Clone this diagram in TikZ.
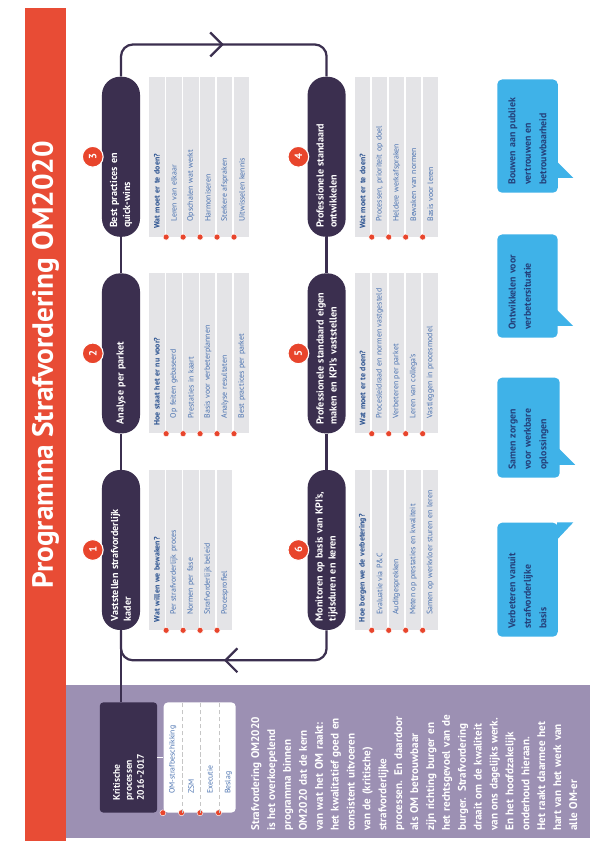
\documentclass[tikz,border=0pt]{standalone}
\usepackage{fontspec}
\setmainfont{PT Sans}
\usepackage{xcolor}
\usetikzlibrary{positioning, arrows.meta, decorations.markings}

\definecolor{titlered}{HTML}{E84C35}
\definecolor{numred}{HTML}{E8452C}
\definecolor{pill}{HTML}{3B2F4F}
\definecolor{panel}{HTML}{9C90B3}
\definecolor{rowgrey}{HTML}{E4E4E7}
\definecolor{headblue}{HTML}{28508F}
\definecolor{itemblue}{HTML}{4A72B0}
\definecolor{calloutblue}{HTML}{3FB2E8}
\definecolor{calloutnavy}{HTML}{24407A}

\begin{document}
\begin{tikzpicture}[
    x=0.025cm, y=-0.025cm, rotate=90, transform shape,
    title/.style={text=white, font=\bfseries\fontsize{20.8}{24}\selectfont, inner sep=0pt},
    stage/.style={rectangle, rounded corners=0.45cm, fill=pill, text=white, text width=3.56cm, inner xsep=0.22cm, minimum height=0.95cm, align=left, font=\bfseries\fontsize{7.2}{9.2}\selectfont},
    num/.style={circle, fill=numred, draw=white, line width=0.8pt, text=white, minimum size=0.52cm, inner sep=0pt, font=\bfseries\fontsize{7.5}{8}\selectfont},
    dotmark/.style={circle, fill=numred, draw=white, line width=0.3pt, minimum size=0.15cm, inner sep=0pt},
    headrow/.style={rectangle, fill=rowgrey, text=headblue, text width=4cm, minimum height=0.38cm, inner xsep=0pt, inner ysep=0pt, align=left, font=\bfseries\fontsize{5.6}{6.5}\selectfont, execute at begin node={\hspace*{0.2cm}}},
    itemrow/.style={rectangle, fill=rowgrey, text=itemblue, text width=4cm, minimum height=0.38cm, inner xsep=0pt, inner ysep=0pt, align=left, font=\fontsize{5.6}{6.5}\selectfont, execute at begin node={\hspace*{0.38cm}}, label={[dotmark, label distance=-0.275cm]west:{}}},
    critbox/.style={rectangle, rounded corners=0.08cm, fill=pill, text=white, text width=2.15cm, inner xsep=0.3cm, minimum height=1.43cm, align=left, font=\bfseries\fontsize{6.8}{8.5}\selectfont},
    listbox/.style={rectangle, rounded corners=0.1cm, fill=white, minimum width=2.75cm, minimum height=1.8cm},
    listrow/.style={rectangle, text=itemblue, text width=2.75cm, minimum height=0.45cm, inner xsep=0pt, inner ysep=0pt, align=left, font=\fontsize{5.5}{6}\selectfont, execute at begin node={\hspace*{0.47cm}}, label={[dotmark, label distance=-0.325cm]west:{}}},
    sepline/.style={draw=gray!45, densely dashed, line width=0.4pt},
    intro/.style={anchor=north west, text=white, text width=3.7cm, inner sep=0pt, align=left, font=\bfseries\fontsize{7.9}{11.3}\selectfont},
    callout/.style={rectangle, rounded corners=0.12cm, fill=calloutblue, text=calloutnavy, anchor=north west, inner xsep=0.2cm, inner ysep=0.28cm, align=left, font=\bfseries\fontsize{7}{11}\selectfont},
    link/.style={draw=pill, line width=1.6pt},
    loopmark/.style={postaction={decorate}, decoration={markings, mark=at position 0.5 with {\arrow{Straight Barb[length=0.3cm, width=0.6cm, line width=1.6pt]}}}}
]
\useasboundingbox (0,0) rectangle (841,593);
\fill[white] (0,0) rectangle (841,593);

% Panel and title bar
\fill[panel] (3,66) rectangle (156,590);
\fill[titlered] (0,25) rectangle (833,66);
\node[title] (title) at (476,45.5) {Programma Strafvordering OM2020};

% Stages
\node[stage] (s1) at (291,121) {Vaststellen strafvorderlijk\\kader};
\node[stage, right=0.9cm of s1] (s2) {Analyse per parket};
\node[stage, right=0.9cm of s2] (s3) {Best practices en\\quick-wins};
\node[stage, below=4.175cm of s3] (s4) {Professionele standaard\\ontwikkelen};
\node[stage, left=0.9cm of s4] (s5) {Professionele standaard eigen\\maken en KPI's vaststellen};
\node[stage, left=0.9cm of s5] (s6) {Monitoren op basis van KPI's,\\tijdsduren en keren};

% Numbers
\node[num, above=-0.05cm of s1] (n1) {1};
\node[num, above=-0.05cm of s2] (n2) {2};
\node[num, above=-0.05cm of s3] (n3) {3};
\node[num, above=-0.05cm of s4] (n4) {4};
\node[num, above=-0.05cm of s5] (n5) {5};
\node[num, above=-0.05cm of s6] (n6) {6};

% Items stage 1
\node[headrow, below=0.22cm of s1] (h1) {Wat willen we bewaken?};
\node[itemrow, below=0.03cm of h1] (h1a) {Per strafvorderlijk proces};
\node[itemrow, below=0.03cm of h1a] (h1b) {Normen per fase};
\node[itemrow, below=0.03cm of h1b] (h1c) {Strafvorderlijk beleid};
\node[itemrow, below=0.03cm of h1c] (h1d) {Procesprofiel};

% Items stage 2
\node[headrow, below=0.22cm of s2] (h2) {Hoe staat het er nu voor?};
\node[itemrow, below=0.03cm of h2] (h2a) {Op feiten gebaseerd};
\node[itemrow, below=0.03cm of h2a] (h2b) {Prestaties in kaart};
\node[itemrow, below=0.03cm of h2b] (h2c) {Basis voor verbeterplannen};
\node[itemrow, below=0.03cm of h2c] (h2d) {Analyse resultaten};
\node[itemrow, below=0.03cm of h2d] (h2e) {Best practices per parket};

% Items stage 3
\node[headrow, below=0.22cm of s3] (h3) {Wat moet er te doen?};
\node[itemrow, below=0.03cm of h3] (h3a) {Leren van elkaar};
\node[itemrow, below=0.03cm of h3a] (h3b) {Opschalen wat werkt};
\node[itemrow, below=0.03cm of h3b] (h3c) {Harmoniseren};
\node[itemrow, below=0.03cm of h3c] (h3d) {Sterkere afspraken};
\node[itemrow, below=0.03cm of h3d] (h3e) {Uitwisselen kennis};

% Items stage 4
\node[headrow, below=0.22cm of s4] (h4) {Wat moet er te doen?};
\node[itemrow, below=0.03cm of h4] (h4a) {Processen, prioriteit op doel};
\node[itemrow, below=0.03cm of h4a] (h4b) {Heldere werkafspraken};
\node[itemrow, below=0.03cm of h4b] (h4c) {Bewaken van normen};
\node[itemrow, below=0.03cm of h4c] (h4d) {Basis voor leren};

% Items stage 5
\node[headrow, below=0.22cm of s5] (h5) {Wat moet er te doen?};
\node[itemrow, below=0.03cm of h5] (h5a) {Procesleidraad en normen vastgesteld};
\node[itemrow, below=0.03cm of h5a] (h5b) {Verbeteren per parket};
\node[itemrow, below=0.03cm of h5b] (h5c) {Leren van collega's};
\node[itemrow, below=0.03cm of h5c] (h5d) {Vastleggen in procesmodel};

% Items stage 6
\node[headrow, below=0.22cm of s6] (h6) {Hoe borgen we de verbetering?};
\node[itemrow, below=0.03cm of h6] (h6a) {Evaluatie via P\&C};
\node[itemrow, below=0.03cm of h6a] (h6b) {Auditgesprekken};
\node[itemrow, below=0.03cm of h6b] (h6c) {Meten op prestaties en kwaliteit};
\node[itemrow, below=0.03cm of h6c] (h6d) {Samen op werkvloer sturen en leren};

% Critical processes
\node[critbox] (crit) at (83.5,128.5) {Kritische\\processen\\2016-2017};
\node[listbox, below=0.15cm of crit] (list) {};
\node[listrow, below=0cm of list.north] (k1) {OM-strafbeschikking};
\node[listrow, below=0cm of k1] (k2) {ZSM};
\node[listrow, below=0cm of k2] (k3) {Executie};
\node[listrow, below=0cm of k3] (k4) {Beslag};
\draw[sepline] (k1.south west) -- (k1.south east);
\draw[sepline] (k2.south west) -- (k2.south east);
\draw[sepline] (k3.south west) -- (k3.south east);

% Intro text
\node[intro] (intro) at (10,251) {Strafvordering OM2020\\is het overkoepelend\\programma binnen\\OM2020 dat de kern\\van wat het OM raakt:\\het kwalitatief goed en\\consistent uitvoeren\\van de (kritische)\\strafvorderlijke\\processen. En daardoor\\als OM betrouwbaar\\zijn richting burger en\\het rechtsgevoel van de\\burger. Strafvordering\\draait om de kwaliteit\\van ons dagelijks werk.\\En het hoofdzakelijk\\onderhoud hieraan.\\Het raakt daarmee het\\hart van het werk van\\alle OM-er};

% Callouts
\node[callout, text width=2.43cm] (c1) at (648,497) {Bouwen aan publiek\\vertrouwen en\\betrouwbaarheid};
\node[callout, text width=2.18cm] (c2) at (503,497) {Ontwikkelen voor\\verbetersituatie\\\mbox{}};
\node[callout, text width=2.1cm] (c3) at (363,497) {Samen zorgen\\voor werkbare\\oplossingen};
\node[callout, text width=2.45cm] (c4) at (204,497) {Verbeteren vanuit\\strafvorderlijke\\basis};
\fill[calloutblue] ([xshift=0.375cm, yshift=0.02cm]c1.south west) -- ++(0.4cm,0) -- ++(-0.4cm,-0.4cm) -- cycle;
\fill[calloutblue] ([xshift=0.3cm, yshift=0.02cm]c2.south west) -- ++(0.4cm,0) -- ++(-0.4cm,-0.4cm) -- cycle;
\fill[calloutblue] ([xshift=0.33cm, yshift=0.02cm]c3.south west) -- ++(0.4cm,0) -- ++(-0.4cm,-0.4cm) -- cycle;
\fill[calloutblue] ([xshift=-0.425cm, yshift=0.02cm]c4.south east) -- ++(0.425cm,0) -- ++(0,-0.4cm) -- cycle;

% Connectors
\draw[link] (s1) -- (s2);
\draw[link] (s2) -- (s3);
\draw[link] (s4) -- (s5);
\draw[link] (s5) -- (s6);
\draw[link, rounded corners=0.3cm, loopmark] (s3.east) -- ++(0.8cm,0) |- (s4.east);
\draw[link, rounded corners=0.3cm, loopmark] (s6.west) -- ++(-0.75cm,0) |- (s1.west);
\draw[link] (s1.west) -- (s1.west -| crit.east);
\draw[white, line width=0.8pt] (crit) -- (list);

\end{tikzpicture}
\end{document}
